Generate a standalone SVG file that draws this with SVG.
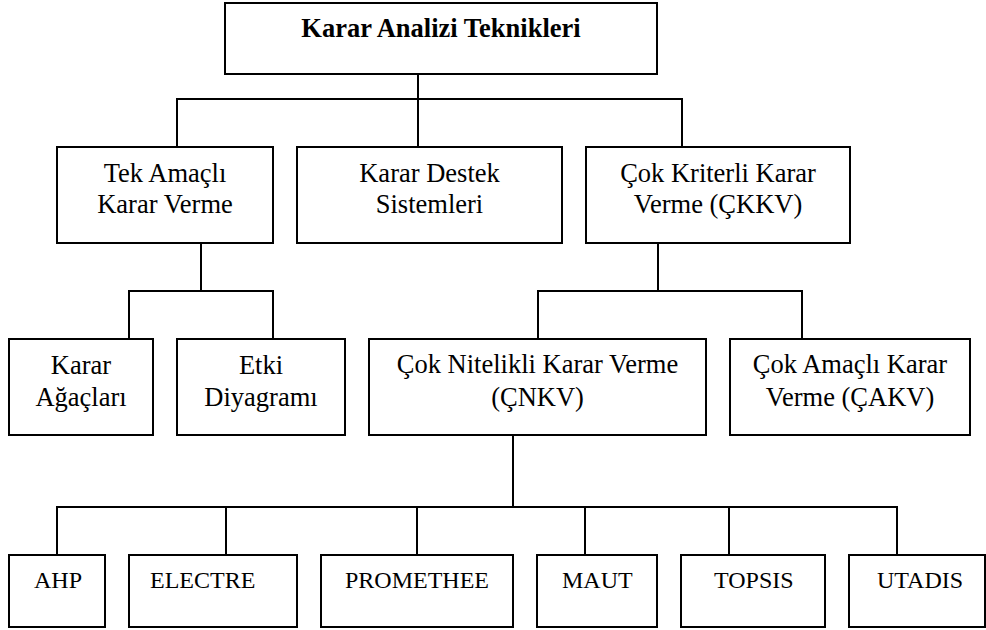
<svg xmlns="http://www.w3.org/2000/svg" width="986" height="630" viewBox="0 0 986 630">
<style>
.b{fill:#fff;stroke:#000;stroke-width:2}
.c{fill:none;stroke:#000;stroke-width:2}
text{font-family:"Liberation Serif","Times New Roman",serif;fill:#000}
.t{font-size:26.5px;text-anchor:middle}
.s{font-size:24px}
.h{font-size:26.5px;font-weight:bold;text-anchor:middle}
</style>
<rect width="986" height="630" fill="#fff"/>
<g id="connectors">
<path class="c" d="M418 74V99M177 147V99H682V147M418 99V147"/>
<path class="c" d="M201 243V291M129 339V291H273V339"/>
<path class="c" d="M658 243V291M538 339V291H802V339"/>
<path class="c" d="M513 435V507M57 555V507H897V555M226 507V555M417 507V555M585 507V555M729 507V555"/>
</g>
<g id="n-root"><rect class="b" x="225" y="3" width="432" height="71"/><text class="h" x="441" y="37">Karar Analizi Teknikleri</text></g>
<g id="n-tek"><rect class="b" x="57" y="147" width="216" height="96"/><text class="t" x="165" y="182">Tek Amaçlı</text><text class="t" x="165" y="213">Karar Verme</text></g>
<g id="n-kds"><rect class="b" x="297" y="147" width="265" height="96"/><text class="t" x="429.5" y="182">Karar Destek</text><text class="t" x="429.5" y="213">Sistemleri</text></g>
<g id="n-ckkv"><rect class="b" x="586" y="147" width="264" height="96"/><text class="t" x="718" y="182">Çok Kriterli Karar</text><text class="t" x="718" y="213">Verme (ÇKKV)</text></g>
<g id="n-agac"><rect class="b" x="9" y="339" width="144" height="96"/><text class="t" x="81" y="374">Karar</text><text class="t" x="81" y="406">Ağaçları</text></g>
<g id="n-etki"><rect class="b" x="177" y="339" width="168" height="96"/><text class="t" x="261" y="374">Etki</text><text class="t" x="261" y="406">Diyagramı</text></g>
<g id="n-cnkv"><rect class="b" x="369" y="339" width="337" height="96"/><text class="t" x="537.5" y="373">Çok Nitelikli Karar Verme</text><text class="t" x="537.5" y="406">(ÇNKV)</text></g>
<g id="n-cakv"><rect class="b" x="730" y="339" width="240" height="96"/><text class="t" x="850" y="373">Çok Amaçlı Karar</text><text class="t" x="850" y="406">Verme (ÇAKV)</text></g>
<g id="n-ahp"><rect class="b" x="9" y="555" width="96" height="72"/><text class="s" x="34" y="588">AHP</text></g>
<g id="n-electre"><rect class="b" x="129" y="555" width="168" height="72"/><text class="s" x="150" y="588">ELECTRE</text></g>
<g id="n-promethee"><rect class="b" x="321" y="555" width="192" height="72"/><text class="s" x="345" y="588">PROMETHEE</text></g>
<g id="n-maut"><rect class="b" x="537" y="555" width="120" height="72"/><text class="s" x="562" y="588">MAUT</text></g>
<g id="n-topsis"><rect class="b" x="681" y="555" width="144" height="72"/><text class="s" x="714" y="588">TOPSIS</text></g>
<g id="n-utadis"><rect class="b" x="849" y="555" width="136" height="72"/><text class="s" x="877" y="588">UTADIS</text></g>
</svg>
